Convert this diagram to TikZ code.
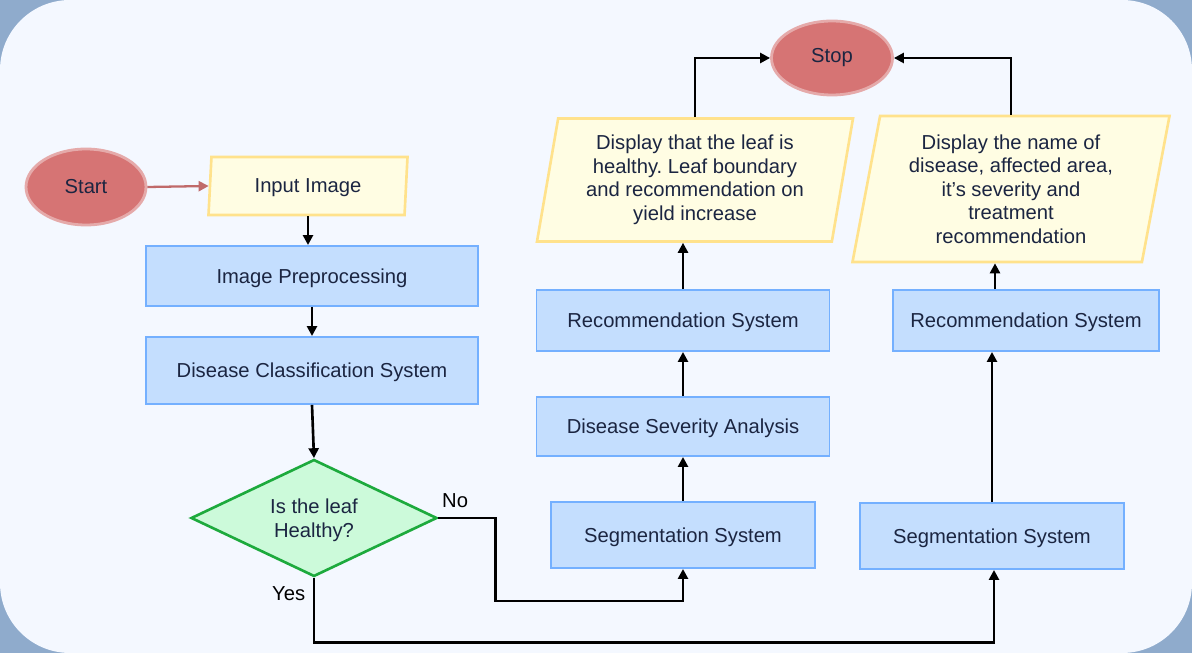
\documentclass[tikz,border=0pt]{standalone}
\usepackage{fontspec}
\setmainfont{Liberation Sans}
\usepackage{xcolor}
\usetikzlibrary{arrows.meta, positioning, shapes.geometric, calc}
\frenchspacing

\definecolor{outerbg}{HTML}{8FABCC}
\definecolor{innerbg}{HTML}{F4F8FF}
\definecolor{boxfill}{HTML}{C4DEFE}
\definecolor{boxline}{HTML}{74B0FF}
\definecolor{iofill}{HTML}{FFFDE3}
\definecolor{ioline}{HTML}{FFE28C}
\definecolor{decfill}{HTML}{CCFADA}
\definecolor{decline}{HTML}{1DAA3D}
\definecolor{termfill}{HTML}{D67474}
\definecolor{termline}{HTML}{E5AAAA}
\definecolor{txt}{HTML}{1B2541}
\definecolor{startarrow}{HTML}{C06A6A}

\begin{document}
\begin{tikzpicture}[>={Triangle[length=2mm, width=2mm]},
    every node/.style={font=\fontsize{11.5pt}{13.4pt}\selectfont, text=txt},
    procbox/.style={rectangle, draw=boxline, fill=boxfill, line width=1.1pt, inner sep=0pt, text depth=0pt},
    iobox/.style={trapezium, trapezium stretches body, draw=ioline, fill=iofill, line width=1.5pt, inner sep=0pt, align=center},
    termbox/.style={ellipse, draw=termline, fill=termfill, line width=1.6pt, inner sep=0pt},
    flow/.style={->, line width=1.5pt, black}]
    % background
    \fill[outerbg] (0,0) rectangle (23.84,-13.06);
    \fill[innerbg, rounded corners=1.4cm] (0,0) rectangle (23.84,-13.06);
    \useasboundingbox (0,0) rectangle (23.84,-13.06);

    % terminals
    \node[termbox, minimum width=2.4cm, minimum height=1.52cm] (start) at (1.72,-3.74){Start};
    \node[termbox, minimum width=2.42cm, minimum height=1.48cm] (stop) at (16.64,-1.16){Stop};

    % left column
    \node[iobox, text depth=0pt, trapezium left angle=78, trapezium right angle=102, minimum width=3.98cm, minimum height=1.16cm] (input) at (6.16,-3.72){Input Image};
    \node[procbox, minimum width=6.64cm, minimum height=1.2cm] (prep) at (6.24,-5.52){Image Preprocessing};
    \node[procbox, minimum width=6.64cm, minimum height=1.34cm] (classify) at (6.24,-7.41){Disease Classification System};
    \node[diamond, draw=decline, fill=decfill, line width=1.5pt, aspect=2.1, inner sep=0pt, text depth=0pt, minimum width=4.92cm, minimum height=2.34cm, align=center] (healthy) at (6.28,-10.36){Is the leaf\\Healthy?};

    % middle column
    \node[procbox, minimum width=5.28cm, minimum height=1.32cm] (segL) at (13.66,-10.7){Segmentation System};
    \node[procbox, minimum width=5.86cm, minimum height=1.18cm] (severity) at (13.66,-8.53){Disease Severity Analysis};
    \node[procbox, minimum width=5.86cm, minimum height=1.22cm] (recL) at (13.66,-6.41){Recommendation System};
    \node[iobox, trapezium left angle=76.7, trapezium right angle=103.3, minimum width=6.32cm, minimum height=2.46cm] (showL) at (13.9,-3.6){Display that the leaf is\\healthy. Leaf boundary\\and recommendation on\\yield increase};

    % right column
    \node[procbox, minimum width=5.28cm, minimum height=1.32cm] (segR) at (19.84,-10.72){Segmentation System};
    \node[procbox, minimum width=5.32cm, minimum height=1.22cm] (recR) at (20.52,-6.41){Recommendation System};
    \node[iobox, trapezium left angle=75.8, trapezium right angle=104.2, minimum width=6.34cm, minimum height=2.92cm] (showR) at (20.22,-3.78){Display the name of\\disease, affected area,\\it’s severity and\\treatment\\recommendation};

    % connectors
    \draw[->, line width=1.3pt, startarrow] (start.east) -- (input.west);
    \draw[flow] (input.south) -- (input.south |- prep.north);
    \draw[flow] (prep.south) -- (classify.north);
    \draw[flow] (classify.south) -- (healthy.north);
    \draw[flow] (healthy.east) -- ++(1.14,0) |- ([yshift=-0.64cm]segL.south) -- (segL.south);
    \draw[flow] (healthy.south) -- ++(0,-1.29) -| ([xshift=0.04cm]segR.south);
    \draw[flow] (segL.north) -- (severity.south);
    \draw[flow] (severity.north) -- (recL.south);
    \draw[flow] (recL.north) -- (recL.north |- showL.south);
    \draw[flow] (showL.center |- showL.north) |- (stop.west);
    \draw[flow] (segR.north) -- (segR.north |- recR.south);
    \draw[flow] ([xshift=0.06cm]segR.north |- recR.north) -- ([xshift=0.06cm]segR.north |- showR.south);
    \draw[flow] (showR.center |- showR.north) |- (stop.east);

    % branch labels
    \node[anchor=south west, text=black, inner sep=2pt] (nolbl) at ([xshift=0.0cm,yshift=0.12cm]healthy.east){No};
    \node[anchor=north east, text=black, inner sep=2pt] (yeslbl) at ([xshift=-0.1cm,yshift=-0.1cm]healthy.south){Yes};
\end{tikzpicture}
\end{document}
